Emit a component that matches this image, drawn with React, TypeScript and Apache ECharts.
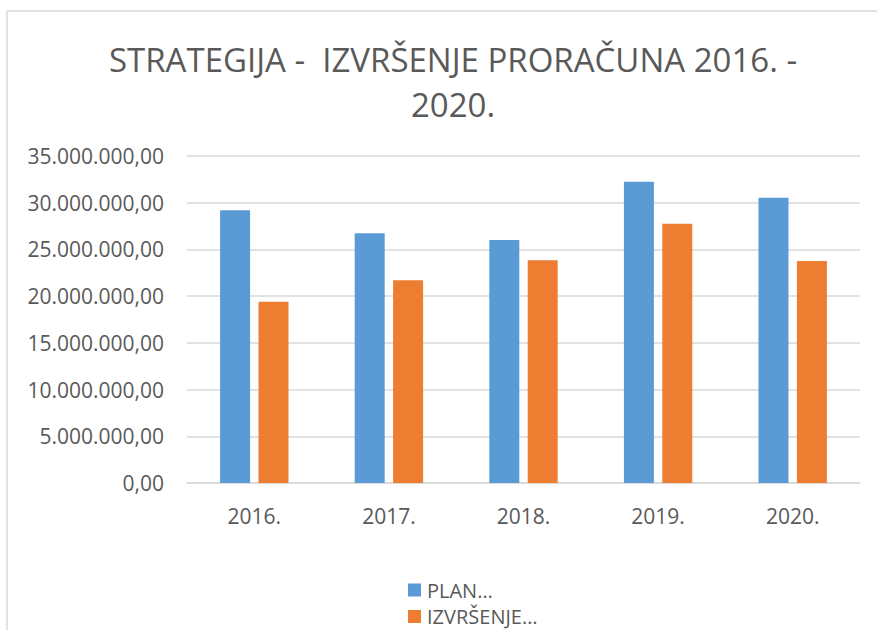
import React, { useEffect, useRef } from "react";
import * as echarts from "echarts";

const titleText = "STRATEGIJA -  IZVRŠENJE PRORAČUNA 2016. -\n2020.";
const categories = ["2016.", "2017.", "2018.", "2019.", "2020."];
const seriesNames = ["PLAN…", "IZVRŠENJE…"];
const planValues = [29190000, 26720000, 26000000, 32250000, 30540000];
const izvrsenjeValues = [19400000, 21700000, 23840000, 27740000, 23760000];
const yMin = 0;
const yMax = 35000000;
const yInterval = 5000000;

const FONT = "'Open Sans', sans-serif";
const TEXT_COLOR = "#595959";
const GRID_COLOR = "#d9d9d9";

function formatHr(v: number): string {
  const int = Math.round(v).toString().replace(/\B(?=(\d{3})+(?!\d))/g, ".");
  return int + ",00";
}

export default function App() {
  const ref = useRef<HTMLDivElement>(null);
  useEffect(() => {
    if (!ref.current) return;
    const chart = echarts.init(ref.current, undefined, { renderer: "svg" });
    chart.setOption({
      animation: false,
      backgroundColor: "#ffffff",
      title: {
        text: titleText,
        left: 448,
        top: 32,
        textAlign: "center",
        textStyle: {
          fontFamily: FONT,
          fontSize: 33,
          fontWeight: "normal",
          color: TEXT_COLOR,
          lineHeight: 45,
        },
      },
      graphic: [
        {
          type: "line",
          shape: { x1: 7, y1: 11, x2: 877, y2: 11 },
          style: { stroke: GRID_COLOR, lineWidth: 1.5 },
        },
        {
          type: "line",
          shape: { x1: 7, y1: 11, x2: 7, y2: 630 },
          style: { stroke: GRID_COLOR, lineWidth: 1.5 },
        },
      ],
      legend: {
        orient: "vertical",
        left: 408,
        top: 580,
        padding: 0,
        itemWidth: 13,
        itemHeight: 13,
        itemGap: 6.5,
        icon: "rect",
        textStyle: {
          fontFamily: FONT,
          fontSize: 20,
          lineHeight: 20,
          color: TEXT_COLOR,
          padding: [0, 0, 0, 1],
        },
        data: seriesNames,
      },
      grid: {
        left: 187,
        right: 17,
        top: 156,
        bottom: 147,
        containLabel: false,
      },
      xAxis: {
        type: "category",
        data: categories,
        axisLine: { lineStyle: { color: GRID_COLOR, width: 1.5 } },
        axisTick: { show: false },
        axisLabel: {
          fontFamily: FONT,
          fontSize: 21,
          color: TEXT_COLOR,
          margin: 22,
        },
      },
      yAxis: {
        type: "value",
        min: yMin,
        max: yMax,
        interval: yInterval,
        axisLine: { show: false },
        axisTick: { show: false },
        splitLine: { lineStyle: { color: GRID_COLOR, width: 1.5 } },
        axisLabel: {
          fontFamily: FONT,
          fontSize: 21,
          color: TEXT_COLOR,
          margin: 23,
          formatter: (v: number) => formatHr(v),
        },
      },
      series: [
        {
          name: seriesNames[0],
          type: "bar",
          data: planValues,
          barWidth: 30,
          barGap: "28%",
          itemStyle: { color: "#5b9bd5" },
        },
        {
          name: seriesNames[1],
          type: "bar",
          data: izvrsenjeValues,
          barWidth: 30,
          itemStyle: { color: "#ed7d31" },
        },
      ],
    });
    return () => chart.dispose();
  }, []);
  return (
    <div
      ref={ref}
      style={{ position: "fixed", left: 0, top: 0, width: 877, height: 630 }}
    />
  );
}
